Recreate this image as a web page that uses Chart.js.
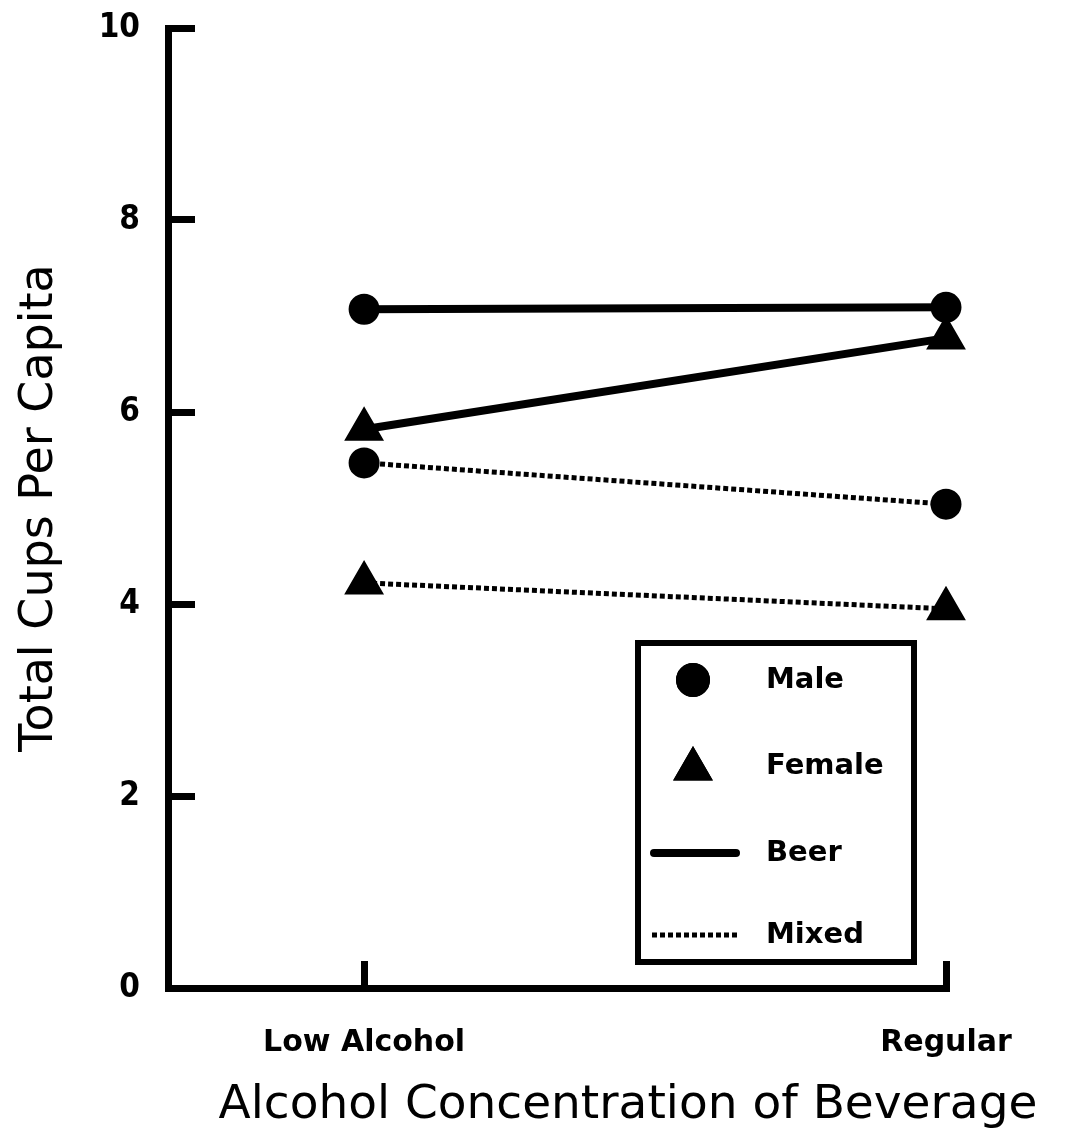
<!DOCTYPE html>
<html>
<head>
<meta charset="utf-8">
<script src="https://cdn.jsdelivr.net/npm/chart.js@4/dist/chart.umd.min.js"></script>
<style>
  body { margin: 0; background: #fff; }
  canvas { display: block; }
</style>
</head>
<body>
<canvas id="cupsChart" width="1070" height="1146"></canvas>
<script>
// values
const CATEGORIES = ['Low Alcohol', 'Regular'];
const MALE_BEER = [7.07, 7.09];
const FEMALE_BEER = [5.82, 6.77];
const MALE_MIXED = [5.47, 5.04];
const FEMALE_MIXED = [4.22, 3.95];
const Y_TICKS = [0, 2, 4, 6, 8, 10];

const LEGEND_ITEMS = ['Male', 'Female', 'Beer', 'Mixed'];
const X_TITLE = 'Alcohol Concentration of Beverage';
const Y_TITLE = 'Total Cups Per Capita';

const toPoints = vals => vals.map((v, i) => ({ x: i, y: v }));

const circle = { pointStyle: 'circle', pointRadius: 14, pointHoverRadius: 14, pointBorderWidth: 3 };
const triangle = { pointStyle: 'triangle', pointRadius: 20, pointHoverRadius: 20, pointBorderWidth: 3 };
const solid = { borderWidth: 8, borderDash: [] };
const dotted = { borderWidth: 5, borderDash: [5, 3] };

function series(label, vals, marker, stroke) {
    return Object.assign({
        label: label,
        data: toPoints(vals),
        borderColor: '#000',
        backgroundColor: '#000',
        pointBackgroundColor: '#000',
        pointBorderColor: '#000',
        tension: 0,
        clip: false
    }, marker, stroke);
}

const labelFont = { family: "'DejaVu Sans', sans-serif", size: 30, weight: 'bold' };
const titleFont = { family: "'DejaVu Sans', sans-serif", size: 46, weight: 'normal' };

//Legend box + x title, drawn after the chart
const extras = {
    id: 'extras',
    afterDraw(chart) {
        const ctx = chart.ctx;
        ctx.save();
        ctx.fillStyle = '#000';
        ctx.strokeStyle = '#000';

        // x title
        ctx.font = "normal 47px 'DejaVu Sans', sans-serif";
        ctx.textAlign = 'center';
        ctx.textBaseline = 'alphabetic';
        ctx.fillText(X_TITLE, 628, 1118);

        // legend frame
        ctx.lineWidth = 6;
        ctx.strokeRect(638, 643, 276, 319);

        const rows = [680, 766, 853, 935];
        Chart.helpers.drawPoint(ctx, { pointStyle: 'circle', radius: 14, borderWidth: 3 }, 693, rows[0]);
        ctx.fill(); ctx.stroke();
        ctx.lineWidth = 3;
        Chart.helpers.drawPoint(ctx, { pointStyle: 'triangle', radius: 20, borderWidth: 3 }, 693, rows[1] + 3);
        ctx.fill(); ctx.stroke();

        ctx.lineCap = 'round';
        ctx.lineWidth = 8;
        ctx.beginPath(); ctx.moveTo(654, rows[2]); ctx.lineTo(736, rows[2]); ctx.stroke();
        ctx.lineCap = 'butt';
        ctx.lineWidth = 5;
        ctx.setLineDash([5, 3]);
        ctx.beginPath(); ctx.moveTo(652, rows[3]); ctx.lineTo(738, rows[3]); ctx.stroke();
        ctx.setLineDash([]);

        ctx.font = "bold 29px 'DejaVu Sans', sans-serif";
        ctx.textAlign = 'left';
        ctx.textBaseline = 'middle';
        LEGEND_ITEMS.forEach((t, i) => ctx.fillText(t, 766, rows[i]));
        ctx.restore();
    }
};

const ctx = document.getElementById('cupsChart').getContext('2d');
new Chart(ctx, {
    type: 'line',
    data: {
        datasets: [
            series('Male Beer', MALE_BEER, circle, solid),
            series('Female Beer', FEMALE_BEER, triangle, solid),
            series('Male Mixed', MALE_MIXED, circle, dotted),
            series('Female Mixed', FEMALE_MIXED, triangle, dotted)
        ]
    },
    options: {
        responsive: false,
        animation: false,
        events: [],
        layout: { autoPadding: false, padding: { top: 28, right: 124, left: 0, bottom: 0 } },
        plugins: { legend: { display: false }, tooltip: { enabled: false } },
        scales: {
            x: {
                type: 'linear',
                min: -0.337,
                max: 1,
                afterBuildTicks: scale => { scale.ticks = CATEGORIES.map((c, i) => ({ value: i })); },
                afterFit: scale => {
                    scale.height = 158;
                    scale.paddingLeft = 0;
                    scale.paddingRight = 0;
                },
                border: { color: '#000', width: 7 },
                grid: { drawOnChartArea: false, tickLength: -27, lineWidth: 7, color: '#000' },
                ticks: {
                    color: '#000',
                    font: labelFont,
                    padding: 64,
                    maxRotation: 0,
                    callback: v => CATEGORIES[v]
                }
            },
            y: {
                min: 0,
                max: 10,
                afterBuildTicks: scale => { scale.ticks = Y_TICKS.map(v => ({ value: v })); },
                afterFit: scale => {
                    scale.width = 168;
                    scale.paddingTop = 0;
                    scale.paddingBottom = 0;
                },
                border: { color: '#000', width: 7 },
                grid: { drawOnChartArea: false, tickLength: -27, lineWidth: 7, color: '#000' },
                ticks: {
                    color: '#000',
                    font: { family: "'DejaVu Sans Condensed', 'DejaVu Sans', sans-serif", size: 33, weight: 'bold' },
                    padding: 55
                },
                title: {
                    display: true,
                    text: Y_TITLE,
                    color: '#000',
                    font: titleFont,
                    padding: { top: 12, bottom: 0 }
                }
            }
        }
    },
    plugins: [extras]
});
</script>
</body>
</html>
